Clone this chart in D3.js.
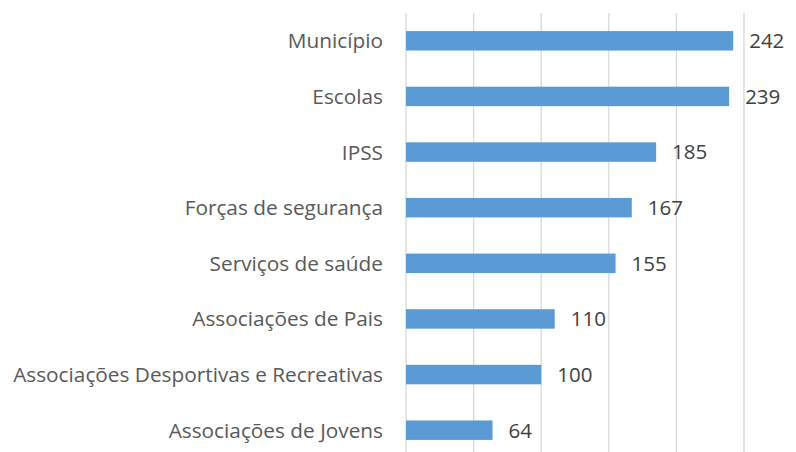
<!DOCTYPE html>
<html>
<head>
<meta charset="utf-8">
<script src="https://cdn.jsdelivr.net/npm/d3@7"></script>
<style>
  body { margin: 0; background: #fff; }
  text { font-family: "Open Sans", Lato, sans-serif; }
</style>
</head>
<body>
<svg id="chart"></svg>
<script>
// Chart data
const categories = [
    "Município",
    "Escolas",
    "IPSS",
    "Forças de segurança",
    "Serviços de saúde",
    "Associações de Pais",
    "Associações Desportivas e Recreativas",
    "Associações de Jovens"
];
const values = [242, 239, 185, 167, 155, 110, 100, 64];
const ticks = [0, 50, 100, 150, 200, 250];

const width = 796;
const height = 452;

const svg = d3.select("#chart")
    .attr("width", width)
    .attr("height", height);

// Scales
const x = d3.scaleLinear()
    .domain([0, 250])
    .range([406, 744]);

const y = d3.scaleBand()
    .domain(categories)
    .range([13, 458])
    .paddingInner(0.65)
    .paddingOuter(0.325);

// Vertical gridlines
svg.selectAll(".grid")
    .data(ticks)
    .enter().append("line")
    .attr("class", "grid")
    .attr("x1", d => x(d))
    .attr("x2", d => x(d))
    .attr("y1", 13)
    .attr("y2", height)
    .attr("stroke", "#d9d9d9")
    .attr("stroke-width", 1.3);

// Bars
svg.selectAll(".bar")
    .data(values)
    .enter().append("rect")
    .attr("class", "bar")
    .attr("x", x(0))
    .attr("y", (d, i) => y(categories[i]))
    .attr("width", d => x(d) - x(0))
    .attr("height", y.bandwidth())
    .attr("fill", "#5b9bd5");

// Value labels
svg.selectAll(".value")
    .data(values)
    .enter().append("text")
    .attr("class", "value")
    .attr("x", d => x(d) + 16)
    .attr("y", (d, i) => y(categories[i]) + y.bandwidth() / 2)
    .attr("dy", "0.36em")
    .attr("font-size", 20.5)
    .attr("fill", "#404040")
    .text(d => d);

// Category axis labels
svg.selectAll(".cat")
    .data(categories)
    .enter().append("text")
    .attr("class", "cat")
    .attr("x", 383)
    .attr("y", d => y(d) + y.bandwidth() / 2)
    .attr("dy", "0.36em")
    .attr("text-anchor", "end")
    .attr("font-size", 20.8)
    .attr("fill", "#595959")
    .text(d => d);
</script>
</body>
</html>
